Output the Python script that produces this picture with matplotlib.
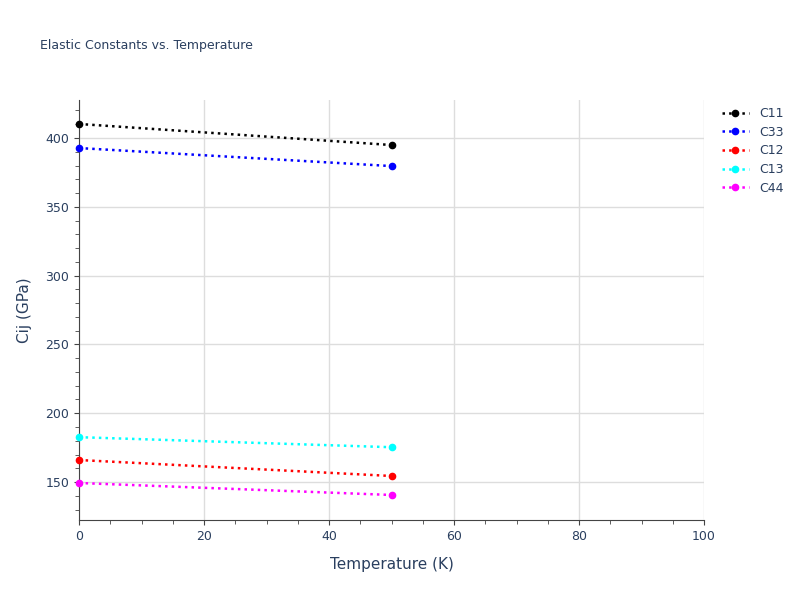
import matplotlib.pyplot as plt
from matplotlib.ticker import MultipleLocator

temps = [0, 50]
names = ["C11", "C33", "C12", "C13", "C44"]
colors = ["black", "blue", "red", "cyan", "magenta"]
values = [
    [410.2, 394.9],
    [392.7, 379.6],
    [166.0, 154.4],
    [182.6, 175.3],
    [149.3, 140.6],
]

fig = plt.figure(figsize=(8, 6), dpi=100)
ax = fig.add_axes([0.09875, 0.1333, 0.78125, 0.7])

for name, col, v in zip(names, colors, values):
    ax.plot(temps, v, linestyle=":", color=col, marker="o", markersize=4.5,
            linewidth=1.8, label=name, clip_on=False, zorder=3)

ax.set_xlim(0, 100)
ax.set_ylim(122.4, 427.6)
ax.xaxis.set_major_locator(MultipleLocator(20))
ax.xaxis.set_minor_locator(MultipleLocator(5))
ax.yaxis.set_major_locator(MultipleLocator(50))
ax.yaxis.set_minor_locator(MultipleLocator(10))
ax.grid(True, which="major", color="#dddddd", linewidth=1)
for s in ["top", "right"]:
    ax.spines[s].set_visible(False)
for s in ["left", "bottom"]:
    ax.spines[s].set_color("#444444")
ax.tick_params(colors="#444444", labelcolor="#2a3f5f", labelsize=9)
ax.tick_params(which="minor", length=3, color="#444444")
ax.set_xlabel("Temperature (K)", color="#2a3f5f", fontsize=11, labelpad=10)
ax.set_ylabel("Cij (GPa)", color="#2a3f5f", fontsize=11, labelpad=10)
fig.text(0.05, 0.918, "Elastic Constants vs. Temperature", color="#2a3f5f", fontsize=9)
ax.legend(loc="upper left", bbox_to_anchor=(1.01, 1.01), frameon=False,
          labelcolor="#2a3f5f", fontsize=9, handlelength=2.2, labelspacing=0.45)

fig.savefig("out.png")
